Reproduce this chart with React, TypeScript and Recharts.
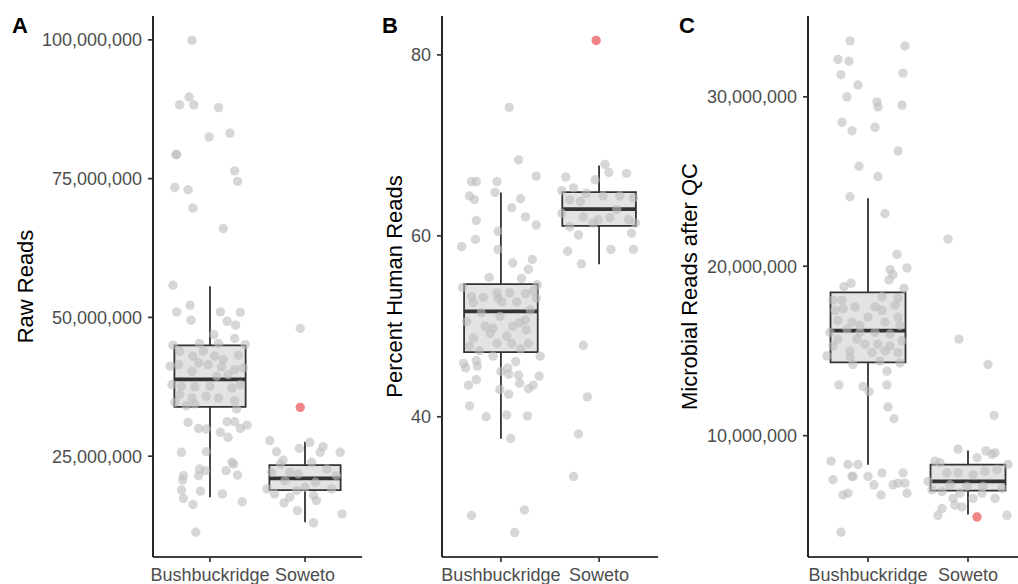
import React from 'react';
import { ComposedChart, XAxis, YAxis, Scatter, ReferenceArea, ReferenceLine } from 'recharts';

const categories = ['Bushbuckridge', 'Soweto'];

// Panel A: Raw Reads (millions) — [jitter offset, value]
const rawBush: [number, number][] = [
  [-0.19, 99.9], [-0.22, 89.7], [-0.32, 88.3], [-0.17, 88.3], [0.09, 87.8], [-0.01, 82.5], [0.21, 83.2],
  [-0.36, 79.3], [-0.35, 79.4], [0.26, 76.4], [0.29, 74.5], [-0.37, 73.4], [-0.23, 73.0], [-0.18, 69.7], [0.14, 66.0],
  [-0.39, 55.8], [-0.35, 51.0], [-0.21, 52.2], [-0.2, 49.5], [0.11, 51.0], [0.32, 50.9], [0.18, 49.3], [0.27, 48.6],
  [0.04, 46.9], [0.26, 46.2],
  [-0.39, 45.0], [-0.11, 45.3], [0.09, 45.3], [0.37, 45.1], [-0.32, 43.9], [-0.18, 43.0], [-0.07, 43.9], [0.05, 43.0],
  [0.14, 42.4], [0.3, 43.2], [-0.42, 41.2], [-0.33, 41.5], [-0.12, 41.8], [-0.02, 41.5], [0.12, 41.1], [0.26, 40.6],
  [0.35, 40.9], [-0.19, 40.3], [0.07, 39.4], [0.19, 39.7], [-0.4, 37.9], [-0.3, 37.6], [-0.16, 37.5], [0, 37.6],
  [0.23, 37.3], [0.32, 37.9], [-0.32, 36.1], [-0.19, 35.5], [-0.04, 35.8], [0.09, 35.5], [0.26, 35.0], [-0.37, 34.7],
  [-0.25, 34.1], [-0.16, 34.4], [0.28, 33.5],
  [-0.23, 31.1], [-0.12, 30.0], [-0.04, 29.9], [0.18, 31.2], [0.26, 31.2], [0.39, 30.6], [0.32, 30.0], [0.11, 29.3],
  [0.19, 28.4], [-0.3, 25.7], [-0.04, 25.8], [-0.28, 21.5], [-0.29, 20.7], [-0.11, 22.7], [-0.05, 22.4], [-0.12, 21.5],
  [0.17, 22.4], [0.23, 23.9], [0.25, 23.6], [0.29, 21.6], [-0.3, 18.9], [-0.28, 17.4], [-0.1, 18.7], [0.13, 18.2],
  [-0.18, 16.3], [0.34, 16.8], [-0.15, 11.3],
];
const rawSoweto: [number, number][] = [
  [-0.05, 48.0], [-0.37, 27.8], [-0.3, 25.8], [-0.06, 26.4], [0.05, 27.5], [0.19, 26.7], [0.16, 25.7], [0.37, 25.7],
  [-0.23, 24.3], [-0.26, 23.6], [-0.16, 22.1], [0.07, 23.9], [0.23, 22.7], [-0.35, 22.1], [-0.07, 21.8], [0.33, 21.5],
  [-0.21, 20.6], [0.11, 20.3], [-0.4, 19.1], [-0.32, 18.2], [-0.09, 18.8], [0, 19.4], [0.28, 19.1], [-0.16, 17.6],
  [0.09, 17.9], [0.12, 17.0], [-0.22, 16.6], [-0.08, 15.2], [0.39, 14.6], [0.09, 13.0],
];
// [category, jitter, value]
const rawOutliers: [number, number, number][] = [[2, -0.05, 33.8]];
// [category, lower whisker, q1, median, q3, upper whisker]
const rawBoxes: [number, number, number, number, number, number][] = [
  [1, 17.6, 33.87, 38.85, 44.96, 55.6],
  [2, 13.1, 18.9, 21.0, 23.4, 27.6],
];
const rawTicks = [25, 50, 75, 100];

// Panel B: Percent Human Reads
const pctBush: [number, number][] = [
  [0.085, 74.2], [0.18, 68.4], [-0.3, 66.0], [-0.25, 66.0], [-0.04, 66.0], [0.36, 66.6], [-0.06, 64.8], [-0.32, 64.4],
  [-0.27, 64.0], [0.2, 64.1], [0.11, 63.1], [-0.25, 61.7], [0.25, 62.1], [0.36, 61.2], [-0.03, 60.5], [-0.26, 59.6],
  [-0.4, 58.8], [-0.03, 58.5], [0.12, 57.0], [0.32, 57.4], [0.28, 56.3], [-0.12, 55.4], [0.21, 55.3], [-0.39, 54.3],
  [0.37, 54.6],
  [-0.3, 53.3], [-0.18, 53.2], [-0.04, 53.7], [-0.03, 53.1], [0.09, 53.7], [0.25, 53.6], [0.36, 53.1], [-0.28, 52.6],
  [0.01, 52.7], [0.16, 52.7], [0.33, 53.9], [-0.16, 50.0], [-0.01, 51.1], [0.19, 50.4], [0.25, 50.7], [-0.28, 48.7],
  [-0.11, 49.2], [0.06, 48.9], [0.26, 49.6], [-0.32, 47.8], [-0.04, 48.1], [0.11, 48.1], [0.28, 48.1],
  [-0.2, 51.5], [0.12, 50.0], [-0.35, 50.5], [0.3, 51.8], [-0.08, 49.8], [0.2, 47.5], [-0.22, 47.3],
  [-0.38, 45.9], [-0.36, 45.4], [-0.25, 46.2], [-0.24, 45.6], [-0.08, 46.7], [0.15, 46.1], [0.4, 46.7], [0, 45.0],
  [0.07, 45.4], [0.08, 44.7], [0.18, 44.6], [0.39, 44.5], [-0.33, 43.5], [-0.25, 44.1], [-0.01, 43.0], [0.08, 42.5],
  [0.19, 43.7], [0.28, 43.1], [0.33, 43.5], [-0.32, 41.2], [-0.15, 40.0], [0.06, 40.2], [0.27, 40.1], [0.1, 37.6],
  [-0.3, 29.1], [0.24, 29.7], [0.14, 27.2],
];
const pctSoweto: [number, number][] = [
  [-0.34, 66.5], [0.06, 67.9], [0.1, 67.0], [0.28, 66.9], [-0.38, 65.0], [-0.26, 65.3], [-0.04, 66.2], [-0.13, 64.7],
  [-0.3, 64.0], [-0.19, 63.8], [0.04, 64.4], [0.21, 64.4], [0.35, 64.2], [-0.38, 62.5], [-0.16, 62.1], [-0.01, 61.8],
  [0.11, 62.0], [0.18, 62.9], [0.3, 61.8], [-0.3, 61.0], [-0.06, 61.4], [0.37, 61.4], [0.33, 60.3], [-0.21, 60.1],
  [-0.32, 58.3], [0.12, 58.5], [0.35, 58.5], [-0.18, 56.9], [-0.16, 47.9], [-0.12, 42.2], [-0.21, 38.1], [-0.26, 33.4],
];
const pctOutliers: [number, number, number][] = [[2, -0.03, 81.6]];
const pctBoxes: [number, number, number, number, number, number][] = [
  [1, 37.57, 47.14, 51.64, 54.66, 64.8],
  [2, 56.87, 61.1, 62.95, 64.83, 67.77],
];
const pctTicks = [40, 60, 80];

// Panel C: Microbial Reads after QC (millions)
const micBush: [number, number][] = [
  [-0.18, 33.3], [0.37, 33.0], [-0.3, 32.2], [-0.19, 32.1], [-0.27, 31.3], [0.35, 31.4], [-0.1, 30.7], [-0.21, 30.0],
  [0.09, 29.7], [0.1, 29.4], [0.34, 29.5], [-0.26, 28.5], [-0.16, 28.0], [0.07, 28.2], [0.3, 26.8], [-0.09, 25.9],
  [0.1, 25.3], [-0.18, 24.1], [0.17, 23.1], [0.29, 20.7], [0.39, 19.9], [0.22, 19.8], [0.21, 19.2], [0.25, 19.5],
  [-0.24, 18.8], [-0.17, 19.0], [0.36, 18.7],
  [-0.33, 17.4], [-0.25, 17.5], [-0.13, 17.6], [0.07, 17.6], [0.14, 17.4], [0.27, 17.7], [0.3, 17.0], [-0.3, 16.8],
  [-0.16, 16.7], [0, 17.0], [0.17, 16.7], [0.32, 16.5], [-0.38, 16.1], [-0.21, 16.3], [-0.08, 16.1], [0.07, 16.1],
  [0.22, 16.0], [-0.3, 15.7], [-0.11, 15.7], [-0.03, 15.4], [0.1, 15.4], [0.22, 15.3], [0.34, 15.6], [-0.18, 15.0],
  [0.04, 14.9], [0.17, 15.0], [0.3, 14.9], [-0.41, 14.7], [-0.35, 15.3], [-0.08, 16.5], [-0.26, 18.0], [0.14, 18.2],
  [-0.35, 18.0], [0.3, 18.1],
  [-0.18, 14.6], [-0.15, 14.2], [0.12, 14.4], [0.32, 14.3], [0.19, 13.8], [-0.29, 13.0], [-0.05, 12.9], [0.01, 12.6],
  [0.19, 13.0], [0.2, 11.7], [0.26, 11.0],
  [-0.37, 8.5], [-0.2, 8.3], [-0.1, 8.3], [-0.35, 7.4], [-0.16, 7.6], [-0.15, 7.6], [0, 7.6], [0.14, 7.8], [0.35, 7.8],
  [0.06, 7.1], [0.25, 7.1], [0.3, 7.2], [0.37, 7.2], [0.13, 6.5], [0.39, 6.6], [-0.25, 6.5], [-0.2, 6.6], [-0.27, 4.3],
];
const micSoweto: [number, number][] = [
  [-0.2, 21.6], [-0.09, 15.7], [0.2, 14.2], [0.26, 11.2], [-0.1, 9.2], [0.18, 9.1], [0.24, 8.9], [0.27, 9.0],
  [0.09, 8.7], [-0.33, 8.5], [-0.28, 8.4], [0.4, 8.3], [-0.21, 7.8], [-0.1, 7.8], [0.05, 7.7], [0.17, 7.9], [0.29, 8.0],
  [-0.4, 7.3], [-0.18, 7.1], [-0.01, 7.0], [0.15, 7.0], [0.34, 6.9], [-0.36, 6.8], [-0.26, 6.7], [-0.08, 6.6],
  [0.14, 6.6], [0.27, 6.3], [-0.15, 6.3], [0.05, 6.3], [-0.13, 5.9], [-0.06, 5.8], [-0.26, 5.7], [-0.3, 5.3], [0.39, 5.3],
];
const micOutliers: [number, number, number][] = [[2, 0.09, 5.2]];
const micBoxes: [number, number, number, number, number, number][] = [
  [1, 8.29, 14.33, 16.2, 18.46, 24.02],
  [2, 5.35, 6.76, 7.3, 8.29, 9.12],
];
const micTicks = [10, 20, 30];

const FONT = '"Liberation Sans", Arial, Helvetica, sans-serif';
const HALF = 0.375;

type PanelProps = {
  left: number;
  width: number;
  yw: number;
  right: number;
  domain: [number, number];
  ticks: number[];
  unit: number;
  groups: [number, number][][];
  outliers: [number, number, number][];
  boxes: [number, number, number, number, number, number][];
};

const fmt = (v: number) => Math.round(v).toLocaleString('en-US');

function Panel({ left, width, yw, right, domain, ticks, unit, groups, outliers, boxes }: PanelProps) {
  const points = groups.flatMap((g, gi) => g.map(([j, v]) => ({ x: gi + 1 + j, y: v * unit })));
  const outs = outliers.map(([c, j, v]) => ({ x: c + j, y: v * unit }));
  const line = { stroke: '#333333', strokeWidth: 1.8 };
  return (
    <div style={{ position: 'absolute', left, top: 0 }}>
      <ComposedChart width={width} height={584} margin={{ top: 16, right, bottom: 0, left: 0 }}>
        <XAxis
          type="number"
          dataKey="x"
          domain={[0.4, 2.6]}
          ticks={[1, 2]}
          interval={0}
          allowDataOverflow
          tickFormatter={(v: number) => categories[v - 1]}
          height={27}
          tickSize={5}
          tickMargin={6}
          tick={{ fill: '#4d4d4d', fontSize: 18, fontFamily: FONT }}
          axisLine={{ stroke: '#000', strokeWidth: 1.7 }}
          tickLine={{ stroke: '#333', strokeWidth: 1.7 }}
        />
        <YAxis
          type="number"
          dataKey="y"
          domain={domain.map((d) => d * unit)}
          ticks={ticks.map((t) => t * unit)}
          interval={0}
          allowDataOverflow
          tickFormatter={fmt}
          width={yw}
          tickSize={5}
          tickMargin={6}
          tick={{ fill: '#4d4d4d', fontSize: 18, fontFamily: FONT }}
          axisLine={{ stroke: '#000', strokeWidth: 1.7 }}
          tickLine={{ stroke: '#333', strokeWidth: 1.7 }}
        />
        {boxes.map(([c, lo, q1, , q3, hi]) => (
          <ReferenceArea
            key={'b' + c}
            x1={c - HALF}
            x2={c + HALF}
            y1={q1 * unit}
            y2={q3 * unit}
            fill="#cccccc"
            fillOpacity={0.55}
            stroke="#333333"
            strokeWidth={1.8}
            strokeOpacity={1}
            ifOverflow="visible"
          />
        ))}
        {boxes.map(([c, lo, q1, , q3, hi]) => (
          <ReferenceLine
            key={'wu' + c}
            segment={[{ x: c, y: q3 * unit }, { x: c, y: hi * unit }]}
            {...line}
            ifOverflow="visible"
          />
        ))}
        {boxes.map(([c, lo, q1]) => (
          <ReferenceLine
            key={'wl' + c}
            segment={[{ x: c, y: lo * unit }, { x: c, y: q1 * unit }]}
            {...line}
            ifOverflow="visible"
          />
        ))}
        {boxes.map(([c, , , med]) => (
          <ReferenceLine
            key={'m' + c}
            segment={[{ x: c - HALF, y: med * unit }, { x: c + HALF, y: med * unit }]}
            stroke="#333333"
            strokeWidth={3.8}
            ifOverflow="visible"
          />
        ))}
        <Scatter
          data={points}
          isAnimationActive={false}
          shape={(p: any) => <circle cx={p.cx} cy={p.cy} r={4.7} fill="#bdbdbd" fillOpacity={0.6} />}
        />
        <Scatter
          data={outs}
          isAnimationActive={false}
          shape={(p: any) => <circle cx={p.cx} cy={p.cy} r={4.7} fill="#ee6f6f" fillOpacity={0.85} />}
        />
      </ComposedChart>
    </div>
  );
}

export default function App() {
  return (
    <div
      style={{
        position: 'absolute',
        left: 0,
        top: 0,
        width: 1018,
        height: 584,
        overflow: 'hidden',
        background: '#fff',
        fontFamily: FONT,
      }}
    >
      <Panel left={0} width={365} yw={153} right={3} domain={[6.84, 104.3]} ticks={rawTicks} unit={1e6}
        groups={[rawBush, rawSoweto]} outliers={rawOutliers} boxes={rawBoxes} />
      <Panel left={340} width={320} yw={102} right={2} domain={[24.5, 84.3]} ticks={pctTicks} unit={1}
        groups={[pctBush, pctSoweto]} outliers={pctOutliers} boxes={pctBoxes} />
      <Panel left={670} width={358} yw={138} right={0} domain={[2.84, 34.77]} ticks={micTicks} unit={1e6}
        groups={[micBush, micSoweto]} outliers={micOutliers} boxes={micBoxes} />
      <svg width={1018} height={584} style={{ position: 'absolute', left: 0, top: 0, pointerEvents: 'none' }}>
        <g fontFamily={FONT}>
          <text x={12} y={33} fontSize={22} fontWeight="bold" fill="#000">A</text>
          <text x={382} y={33} fontSize={22} fontWeight="bold" fill="#000">B</text>
          <text x={679} y={33} fontSize={22} fontWeight="bold" fill="#000">C</text>
          <text transform="translate(33,286.5) rotate(-90)" textAnchor="middle" fontSize={22} fill="#000">Raw Reads</text>
          <text transform="translate(402,286.5) rotate(-90)" textAnchor="middle" fontSize={22} fill="#000">Percent Human Reads</text>
          <text transform="translate(697,286.5) rotate(-90)" textAnchor="middle" fontSize={22} fill="#000">Microbial Reads after QC</text>
        </g>
      </svg>
    </div>
  );
}
